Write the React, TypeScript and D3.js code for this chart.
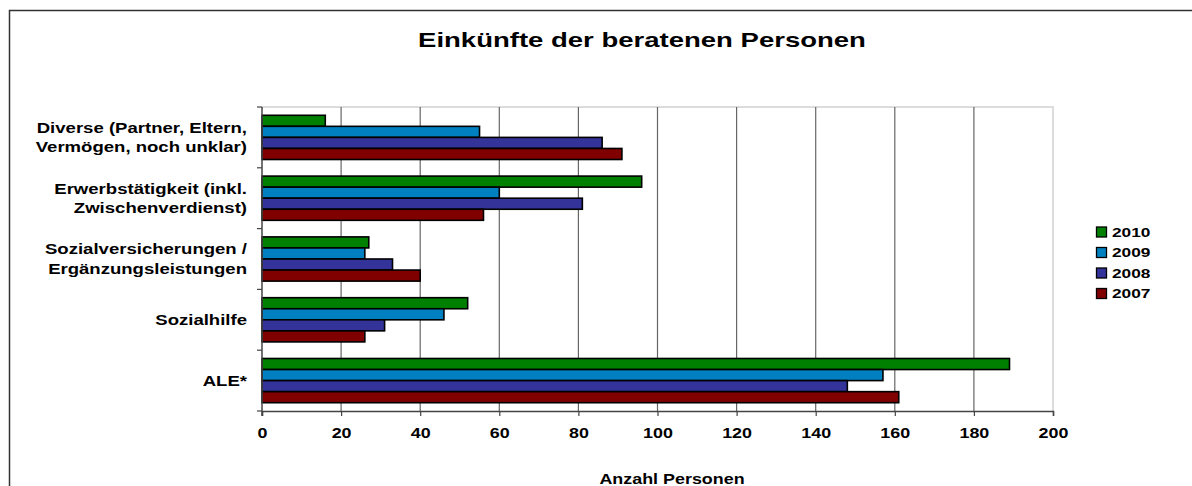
import { useRef, useEffect } from 'react';
import * as d3 from 'd3';

// Chart data
const categories = [
  ["Diverse (Partner, Eltern,", "Vermögen, noch unklar)"],
  ["Erwerbstätigkeit (inkl.", "Zwischenverdienst)"],
  ["Sozialversicherungen /", "Ergänzungsleistungen"],
  ["Sozialhilfe"],
  ["ALE*"]
];
const years = ["2010", "2009", "2008", "2007"];
const values2010 = [16, 96, 27, 52, 189];
const values2009 = [55, 60, 26, 46, 157];
const values2008 = [86, 81, 33, 31, 148];
const values2007 = [91, 56, 40, 26, 161];
const xTicks = [0, 20, 40, 60, 80, 100, 120, 140, 160, 180, 200];
const colors = ["#008000", "#0080c0", "#333399", "#800000"];

export default function App() {
  const ref = useRef<SVGSVGElement>(null);

  useEffect(() => {
    document.body.style.margin = "0";
    document.body.style.overflow = "hidden";
    if (!ref.current) return;

    const width = 1192;
    const height = 486;
    const plot = { left: 262, right: 1053, top: 107, bottom: 411 };
    const font = "'Liberation Sans', Arial, sans-serif";
    const stretch = 1.28; // the source font is drawn wider than normal

    const svg = d3.select(ref.current)
      .attr("width", width)
      .attr("height", height);
    svg.selectAll("*").remove();

    svg.append("rect").attr("width", width).attr("height", height).attr("fill", "#fff");

    // outer frame
    svg.append("rect")
      .attr("x", 9.5).attr("y", 10.5)
      .attr("width", 1300).attr("height", 600)
      .attr("fill", "none")
      .attr("stroke", "#333")
      .attr("stroke-width", 1.5);

    const x = d3.scaleLinear().domain([0, 200]).range([plot.left, plot.right]);
    const keys = categories.map((_, i) => String(i));
    const y = d3.scaleBand().domain(keys).range([plot.top, plot.bottom]).paddingInner(0).paddingOuter(0);
    const inner = d3.scaleBand().domain(years).range([0, y.bandwidth()]).paddingOuter(0.75).paddingInner(0);

    const label = (px: number, py: number, txt: string, size: number, anchor: string, sx = stretch) =>
      svg.append("text")
        .attr("transform", `translate(${px},${py}) scale(${sx},1)`)
        .attr("text-anchor", anchor)
        .style("font-family", font)
        .style("font-size", `${size}px`)
        .style("font-weight", "bold")
        .text(txt);

    // plot area border (light)
    svg.append("path")
      .attr("d", `M${plot.left},${plot.top}H${plot.right}V${plot.bottom}`)
      .attr("fill", "none")
      .attr("stroke", "#dcdcdc")
      .attr("stroke-width", 2);

    // gridlines
    svg.append("g")
      .selectAll("line")
      .data(xTicks.slice(1, -1))
      .join("line")
      .attr("x1", d => x(d)).attr("x2", d => x(d))
      .attr("y1", plot.top).attr("y2", plot.bottom)
      .attr("stroke", "#666")
      .attr("stroke-width", 1.2);

    // bars
    const series = [values2010, values2009, values2008, values2007];
    series.forEach((vals, si) => {
      svg.append("g")
        .selectAll("rect")
        .data(vals)
        .join("rect")
        .attr("x", x(0))
        .attr("y", (_, i) => y(keys[i])! + inner(years[si])!)
        .attr("width", d => x(d) - x(0))
        .attr("height", inner.bandwidth())
        .attr("fill", colors[si])
        .attr("stroke", "#000")
        .attr("stroke-width", 1.6);
    });

    // axes
    const axisX = svg.append("g")
      .attr("transform", `translate(0,${plot.bottom})`)
      .call(d3.axisBottom(x).tickValues(xTicks).tickSize(5).tickPadding(12));
    axisX.select(".domain").attr("stroke", "#444").attr("stroke-width", 1.5);
    axisX.selectAll(".tick line").attr("stroke", "#444").attr("stroke-width", 1.2);
    axisX.selectAll("text")
      .attr("fill", "#000")
      .attr("transform", `scale(${stretch},1)`)
      .style("font-family", font)
      .style("font-size", "14px")
      .style("font-weight", "bold");

    const bounds = [...keys.map(k => y(k)!), plot.bottom];
    svg.append("line")
      .attr("x1", plot.left).attr("x2", plot.left)
      .attr("y1", plot.top).attr("y2", plot.bottom + 5)
      .attr("stroke", "#444").attr("stroke-width", 1.5);
    svg.append("g")
      .selectAll("line")
      .data(bounds)
      .join("line")
      .attr("x1", plot.left - 5).attr("x2", plot.left)
      .attr("y1", d => d).attr("y2", d => d)
      .attr("stroke", "#444").attr("stroke-width", 1.2);

    // category labels
    categories.forEach((lines, i) => {
      const cy = y(keys[i])! + y.bandwidth() / 2;
      const lh = 19.5;
      lines.forEach((line, li) => {
        label(247, cy + (li - (lines.length - 1) / 2) * lh, line, 14.5, "end")
          .attr("dy", "0.36em");
      });
    });

    // title
    label(642, 47, "Einkünfte der beratenen Personen", 21, "middle", 1.31);

    // axis title
    label(672, 484, "Anzahl Personen", 14, "middle");

    // legend
    const legend = svg.append("g").attr("transform", "translate(1096,232)");
    years.forEach((yr, i) => {
      const g = legend.append("g").attr("transform", `translate(0,${i * 20.5})`);
      g.append("rect")
        .attr("x", 0.5).attr("y", -5)
        .attr("width", 10).attr("height", 10)
        .attr("fill", colors[i])
        .attr("stroke", "#000")
        .attr("stroke-width", 1.3);
      g.append("text")
        .attr("transform", `translate(16,0) scale(${stretch},1)`)
        .attr("dy", "0.36em")
        .style("font-family", font)
        .style("font-size", "13.5px")
        .style("font-weight", "bold")
        .text(yr);
    });
  }, []);

  return <svg ref={ref} style={{ display: "block" }}></svg>;
}
